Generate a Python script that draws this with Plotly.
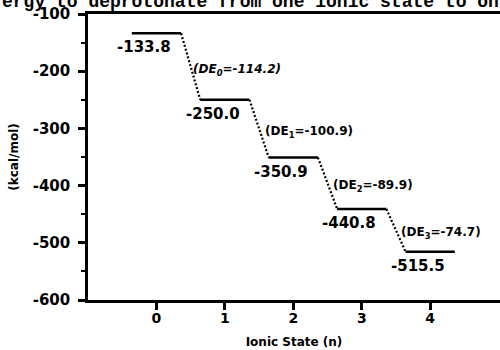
import plotly.graph_objects as go

states = [0, 1, 2, 3, 4]
energies = [-133.8, -250.0, -350.9, -440.8, -515.5]
de_values = [-114.2, -100.9, -89.9, -74.7]
y_ticks = [-100, -200, -300, -400, -500, -600]
x_ticks = [0, 1, 2, 3, 4]
caption = "ergy to deprotonate from one ionic state to on"

HW = 0.36  # half width of level bars
FONT = "DejaVu Sans, Arial, sans-serif"

lx, ly = [], []
for n, e in zip(states, energies):
    lx += [n - HW, n + HW, None]
    ly += [e, e, None]

cx, cy = [], []
for i in range(len(states) - 1):
    cx += [states[i] + HW, states[i + 1] - HW, None]
    cy += [energies[i], energies[i + 1], None]

fig = go.Figure()
fig.add_trace(go.Scatter(x=cx, y=cy, mode="lines",
                         line=dict(color="black", width=2.2, dash="2px,2px"),
                         showlegend=False, hoverinfo="skip"))
fig.add_trace(go.Scatter(x=lx, y=ly, mode="lines",
                         line=dict(color="black", width=2.5),
                         showlegend=False, hoverinfo="skip"))

annotations = []
for n, e in zip(states, energies):
    annotations.append(dict(x=n - 0.18, y=e, xref="x", yref="y",
                            text=f"<b>{e:.1f}</b>", showarrow=False,
                            yshift=-14, font=dict(family=FONT, size=15, color="black")))
for i, d in enumerate(de_values):
    xm = (states[i] + states[i + 1]) / 2 + 0.05
    ym = (energies[i] + energies[i + 1]) / 2
    txt = f"<b>(DE<sub>{i}</sub>={d:.1f})</b>"
    if i == 0:
        xm -= 0.05
        txt = f"<b><i>(DE<sub>{i}</sub>={d:.1f})</i></b>"
    annotations.append(dict(x=xm, y=ym, xref="x", yref="y", text=txt,
                            showarrow=False, xanchor="left", yshift=-3,
                            font=dict(family=FONT, size=12, color="black")))
annotations.append(dict(x=0, y=1, xref="paper", yref="paper", xanchor="left",
                        yanchor="middle", yshift=12, xshift=-88,
                        text=f"<b>{caption}</b>", showarrow=False,
                        font=dict(family="Liberation Mono, monospace", size=18,
                                  color="black")))

fig.update_layout(
    width=500, height=350,
    margin=dict(l=88, r=0, t=14, b=50, autoexpand=False),
    plot_bgcolor="white", paper_bgcolor="white",
    annotations=annotations,
    font=dict(family=FONT, color="black"),
)
fig.update_xaxes(range=[-1, 5.02], tickvals=x_ticks,
                 ticktext=[f"<b>{t}</b>" for t in x_ticks],
                 ticks="outside", ticklen=7, tickwidth=2.5, tickcolor="black",
                 showline=True, linewidth=2.5, linecolor="black", mirror=True,
                 showgrid=False, zeroline=False, automargin=False,
                 tickfont=dict(size=14), ticklabelstandoff=-4,
                 title=dict(text="<b>Ionic State (n)</b>", font=dict(size=12), standoff=14))
fig.update_yaxes(range=[-600, -100], tickvals=y_ticks,
                 ticktext=[f"<b>{t}</b>" for t in y_ticks],
                 ticks="outside", ticklen=7, tickwidth=2.5, tickcolor="black",
                 minor=dict(dtick=50, ticks="outside", ticklen=4, tickwidth=2,
                            tickcolor="black"),
                 showline=True, linewidth=2.5, linecolor="black", mirror=True,
                 showgrid=False, zeroline=False, automargin=False,
                 tickfont=dict(size=15), ticklabelstandoff=5,
                 title=dict(text="<b>(kcal/mol)</b>", font=dict(size=12), standoff=12))

fig.write_html("out.html", config={"displayModeBar": False},
               post_script="document.body.style.margin='0';")
